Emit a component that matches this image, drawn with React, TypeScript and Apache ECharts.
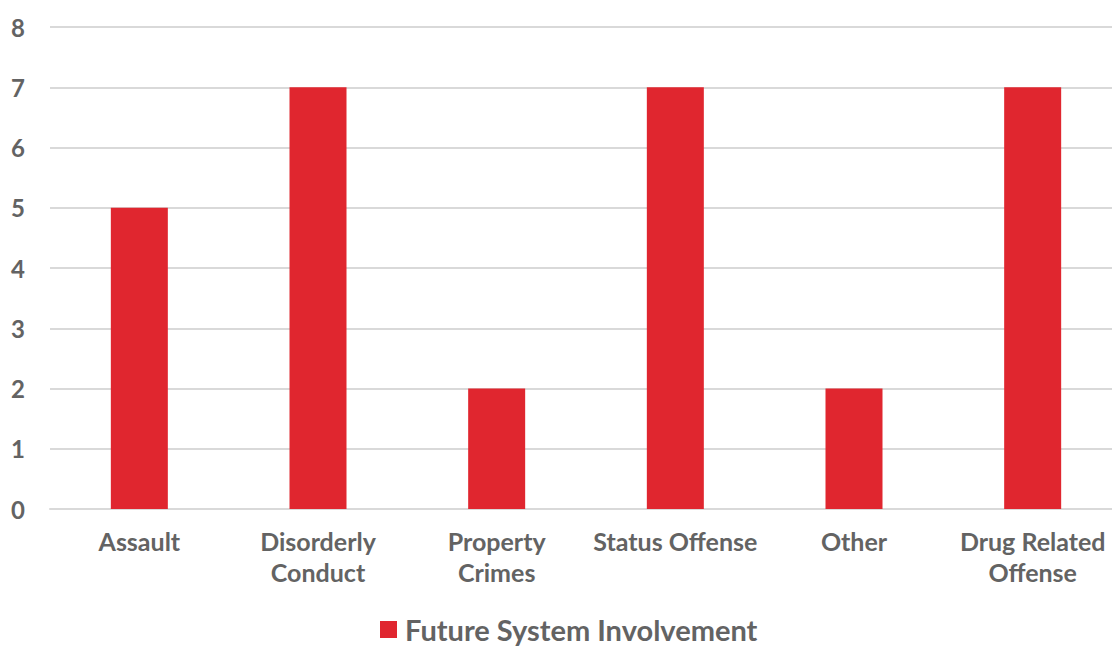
import React, { useEffect, useRef } from "react";
import * as echarts from "echarts";

const categories = ["Assault", "Disorderly Conduct", "Property Crimes", "Status Offense", "Other", "Drug Related Offense"];
const categoryLabels = ["Assault", "Disorderly\nConduct", "Property\nCrimes", "Status Offense", "Other", "Drug Related\nOffense"];
const values = [5, 7, 2, 7, 2, 7];
const seriesName = "Future System Involvement";

export default function App() {
  const ref = useRef<HTMLDivElement>(null);
  useEffect(() => {
    if (!ref.current) return;
    const chart = echarts.init(ref.current, null, { renderer: "svg" });
    const textColor = "#636363";
    chart.setOption({
      animation: false,
      grid: { left: 50, right: 0, top: 27, bottom: 137, containLabel: false },
      legend: {
        data: [seriesName],
        left: 380,
        top: 615,
        padding: 0,
        icon: "rect",
        itemWidth: 17,
        itemHeight: 17,
        textStyle: { color: textColor, fontSize: 29, lineHeight: 29, fontWeight: "bold", fontFamily: "Lato", padding: [0, 0, 0, 3] },
      },
      xAxis: {
        type: "category",
        data: categories,
        axisLine: { show: true, lineStyle: { color: "#d9d9d9", width: 2 } },
        axisTick: { show: false },
        axisLabel: {
          color: textColor,
          fontSize: 25,
          fontWeight: "bold",
          fontFamily: "Lato",
          lineHeight: 31,
          margin: 16,
          interval: 0,
          formatter: (_v: string, i: number) => categoryLabels[i],
        },
      },
      yAxis: {
        type: "value",
        min: 0,
        max: 8,
        interval: 1,
        axisLine: { show: false },
        axisTick: { show: false },
        splitLine: { lineStyle: { color: "#d9d9d9", width: 2 } },
        axisLabel: { color: textColor, fontSize: 24, fontWeight: "bold", fontFamily: "Lato", margin: 25 },
      },
      series: [
        {
          name: seriesName,
          type: "bar",
          data: values,
          barWidth: 57,
          itemStyle: { color: "#e0262f" },
        },
      ],
    });
    return () => chart.dispose();
  }, []);
  return (
    <div style={{ position: "absolute", left: 0, top: 0, width: 1112, height: 646, overflow: "hidden" }}>
      <div ref={ref} style={{ width: 1122, height: 646 }} />
    </div>
  );
}
